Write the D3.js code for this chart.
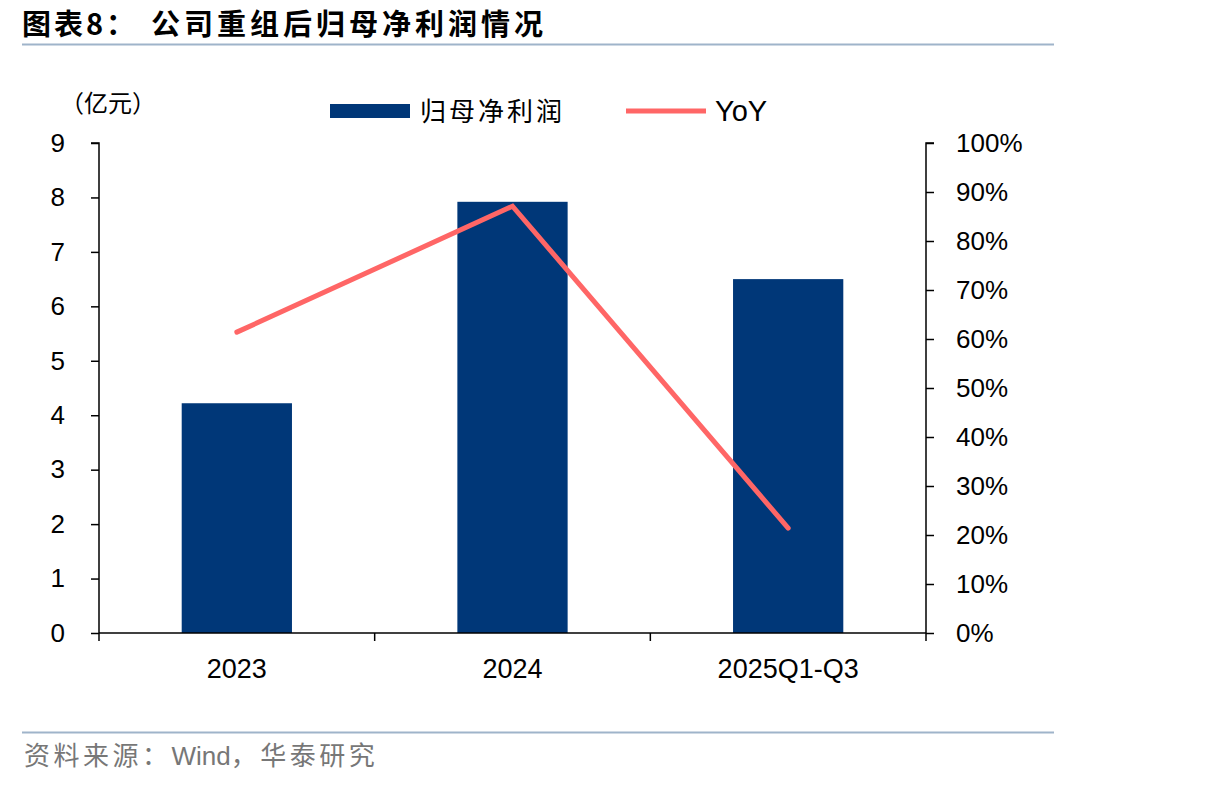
<!DOCTYPE html>
<html><head><meta charset="utf-8">
<script src="https://cdn.jsdelivr.net/npm/d3@7"></script>
<style>body{margin:0;background:#fff}svg{display:block}</style>
</head><body>
<script>
const categories = ["2023", "2024", "2025Q1-Q3"];
const profit = [4.22, 7.92, 6.50];
const yoy = [61.4, 87.1, 21.4];
const leftTicks = [0,1,2,3,4,5,6,7,8,9];
const rightTicks = [0,10,20,30,40,50,60,70,80,90,100];

const W = 1206, H = 786;
const svg = d3.select("body").append("svg").attr("width", W).attr("height", H);
const latin = "Arial, 'Liberation Sans', sans-serif";
const cjk = "'Noto Sans CJK SC', sans-serif";

// title
svg.append("text").attr("x", 22).attr("y", 35).attr("font-family", cjk).attr("font-weight", "bold")
  .attr("font-size", 29).attr("letter-spacing", 3).attr("fill", "#000").text("图表8：");
svg.append("text").attr("x", 151).attr("y", 35).attr("font-family", cjk).attr("font-weight", "bold")
  .attr("font-size", 29).attr("letter-spacing", 4).attr("fill", "#000").text("公司重组后归母净利润情况");
svg.append("line").attr("x1", 22).attr("x2", 1054).attr("y1", 44.5).attr("y2", 44.5)
  .attr("stroke", "#9fb4ca").attr("stroke-width", 2);

const x0 = 99, x1 = 926, yTop = 143, yBot = 633;
const x = d3.scaleBand().domain(categories).range([x0, x1]).paddingInner(0.6).paddingOuter(0.3);
const xb = d3.scaleBand().domain(categories).range([x0, x1]);
const yL = d3.scaleLinear().domain([0, 9]).range([yBot, yTop]);
const yR = d3.scaleLinear().domain([0, 100]).range([yBot, yTop]);

// bars
svg.append("g").selectAll("rect").data(profit).join("rect")
  .attr("x", (d,i) => x(categories[i])).attr("width", x.bandwidth())
  .attr("y", d => yL(d)).attr("height", d => yBot - yL(d)).attr("fill", "#003778");

// axes
const gl = svg.append("g").attr("transform", `translate(${x0},0)`)
  .call(d3.axisLeft(yL).tickValues(leftTicks).tickSize(8).tickPadding(26).tickFormat(d3.format("d")));
const gr = svg.append("g").attr("transform", `translate(${x1},0)`)
  .call(d3.axisRight(yR).tickValues(rightTicks).tickSize(8).tickPadding(22).tickFormat(d => d + "%"));
const gx = svg.append("g").attr("transform", `translate(0,${yBot})`)
  .call(d3.axisBottom(xb).tickSize(0).tickPadding(26));
const bounds = [x0, ...categories.map(c => xb(c) + xb.bandwidth())];
gx.selectAll("line.bt").data(bounds).join("line").attr("class","bt")
  .attr("x1", d => d).attr("x2", d => d).attr("y1", 0).attr("y2", 8).attr("stroke", "#000").attr("stroke-width", 1.5);

[gl, gr, gx].forEach(g => {
  g.selectAll(".domain").attr("stroke", "#000").attr("stroke-width", 1.5);
  g.selectAll(".tick line").attr("stroke", "#000").attr("stroke-width", 1.5);
  g.selectAll("text").attr("font-family", latin).attr("font-size", 26).attr("fill", "#000");
});
gx.selectAll("text").attr("font-size", 27);
gl.select(".domain").attr("d", `M-8,${yTop}H0V${yBot}`);
gr.select(".domain").attr("d", `M8,${yTop}H0V${yBot}`);
gx.select(".domain").attr("d", `M${x0},0H${x1}`);

// line
const line = d3.line().x((d,i) => xb(categories[i]) + xb.bandwidth()/2).y(d => yR(d));
svg.append("path").datum(yoy).attr("d", line).attr("fill", "none")
  .attr("stroke", "#ff6666").attr("stroke-width", 5).attr("stroke-linecap", "round").attr("stroke-linejoin", "miter");

// unit
svg.append("text").attr("x", 60).attr("y", 112).attr("font-family", cjk).attr("font-size", 24)
  .attr("fill", "#000").text("（亿元）");

// legend
svg.append("rect").attr("x", 330).attr("y", 104).attr("width", 80).attr("height", 14).attr("fill", "#003778");
svg.append("text").attr("x", 420).attr("y", 121).attr("font-family", cjk).attr("font-size", 26)
  .attr("letter-spacing", 3).attr("fill", "#000").text("归母净利润");
svg.append("line").attr("x1", 626).attr("x2", 706).attr("y1", 111).attr("y2", 111)
  .attr("stroke", "#ff6666").attr("stroke-width", 5);
svg.append("text").attr("x", 715).attr("y", 121).attr("font-family", latin).attr("font-size", 29).attr("fill", "#000").text("YoY");

// footer
svg.append("line").attr("x1", 22).attr("x2", 1054).attr("y1", 732.5).attr("y2", 732.5)
  .attr("stroke", "#9fb4ca").attr("stroke-width", 2);
const ft = svg.append("text").attr("x", 24).attr("y", 765).attr("font-size", 26).attr("fill", "#777");
ft.append("tspan").attr("font-family", cjk).attr("letter-spacing", 3.5).text("资料来源：");
ft.append("tspan").attr("font-family", latin).attr("letter-spacing", 0).text("Wind");
ft.append("tspan").attr("font-family", cjk).attr("letter-spacing", 3.5).text("，华泰研究");
</script>
</body></html>
